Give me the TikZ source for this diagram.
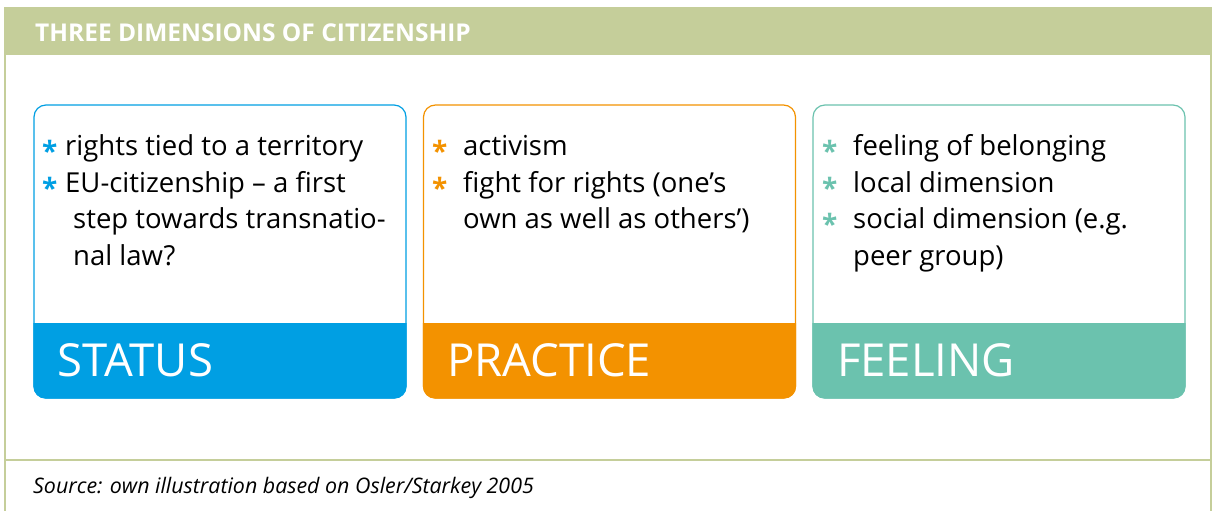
\documentclass[tikz,border=0pt]{standalone}
\usepackage{fontspec}
\setmainfont{Open Sans}
\usetikzlibrary{positioning}
\definecolor{bandgreen}{HTML}{C5CE9A}
\definecolor{cblue}{HTML}{009FE3}
\definecolor{corange}{HTML}{F39200}
\definecolor{cteal}{HTML}{6BC2AE}
\tikzset{
  card/.style={draw=#1, line width=1.2pt, rounded corners=12pt, fill=white, minimum width=372pt, minimum height=293pt, inner sep=0pt},
  txt/.style={anchor=base west, inner sep=0pt, font=\fontsize{27.5}{30}\selectfont, text=black},
  bul/.style={anchor=base west, inner sep=0pt, font=\fontsize{28}{30}\selectfont\bfseries, text=#1},
  lab/.style={anchor=base west, inner sep=0pt, font=\fontsize{45.5}{50}\selectfont, text=white},
}
\begin{document}
\begin{tikzpicture}[x=1pt,y=-1pt]
\useasboundingbox (0,0) rectangle (1212,511);
% frame
\fill[bandgreen] (4,7) rectangle (1212,55);
\draw[bandgreen, line width=2pt] (5,55) -- (5,511);
\draw[bandgreen, line width=2pt] (1211,55) -- (1211,511);
\draw[bandgreen, line width=2.5pt] (5,460) -- (1211,460);
\node[anchor=base west, inner sep=0pt, text=white, font=\fontsize{24.5}{28}\selectfont\bfseries] (title) at (35,42) {THREE DIMENSIONS OF CITIZENSHIP};
\node[anchor=base west, inner sep=0pt, font=\fontsize{21.4}{24}\selectfont\itshape] (source) at (33,493) {Source: own illustration based on Osler/Starkey 2005};
% cards
\foreach \nm/\cx/\col in {status/220/cblue, practice/609.5/corange, feeling/999/cteal}{
  \node[card=\col] (\nm) at (\cx,251.5) {};
  \begin{scope}
    \clip (\cx-200,323) rectangle (\cx+200,410);
    \fill[\col, rounded corners=12pt] (\nm.north west) rectangle (\nm.south east);
  \end{scope}
}
% labels
\node[lab] (lstatus) at (57,376) {STATUS};
\node[lab] (lpractice) at (447,376) {PRACTICE};
\node[lab] (lfeeling) at (837,376) {FEELING};
% status text
\node[bul=cblue] (sb1) at (42,161) {*};
\node[txt] (st1) at (65,155) {rights tied to a territory};
\node[bul=cblue] (sb2) at (42,198) {*};
\node[txt] (st2) at (65,192) {EU-citizenship – a first};
\node[txt] (st3) at (73,228) {step towards transnatio-};
\node[txt] (st4) at (73,265) {nal law?};
% practice text
\node[bul=corange] (pb1) at (432,161) {*};
\node[txt] (pt1) at (463,155) {activism};
\node[bul=corange] (pb2) at (432,198) {*};
\node[txt] (pt2) at (463,192) {fight for rights (one’s};
\node[txt] (pt3) at (463,228) {own as well as others’)};
% feeling text
\node[bul=cteal] (fb1) at (822,161) {*};
\node[txt] (ft1) at (853,155) {feeling of belonging};
\node[bul=cteal] (fb2) at (822,198) {*};
\node[txt] (ft2) at (853,192) {local dimension};
\node[bul=cteal] (fb3) at (822,234) {*};
\node[txt] (ft3) at (853,228) {social dimension (e.g.};
\node[txt] (ft4) at (853,265) {peer group)};
\end{tikzpicture}
\end{document}
